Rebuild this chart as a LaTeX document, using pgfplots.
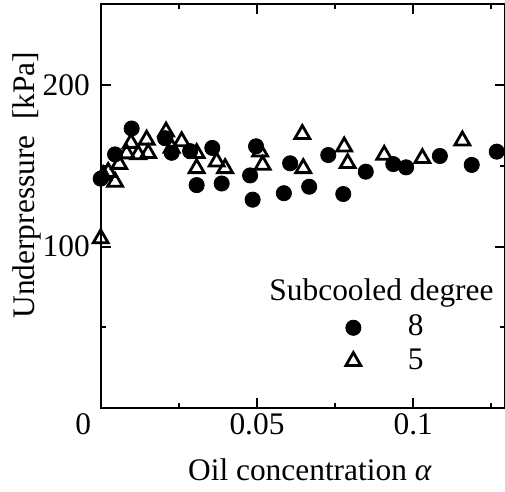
\documentclass[border=0pt]{standalone}
\usepackage{fontspec}
\setmainfont{Liberation Serif}
\usepackage{pgfplots}
\pgfplotsset{compat=1.18}
\begin{document}
\fontsize{15.7}{18}\selectfont
\begin{tikzpicture}
\begin{axis}[
  scale only axis,
  width=202pt, height=202.15pt,
  xmin=0, xmax=0.12924, ymin=0, ymax=250,
  xtick={0,0.05,0.1},
  xticklabels={\llap{0\hspace{4.85pt}},0.05,0.1},
  minor xtick={0.025,0.075,0.125},
  ytick={100,200},
  minor ytick={50,150},
  major tick length=5pt, minor tick length=2.5pt,
  tick align=inside,
  axis line style={line width=1pt},
  every tick/.style={line width=1pt, black},
  /pgf/number format/assume math mode=true,
  scaled x ticks=false,
  xticklabel style={inner sep=2.5pt, font=\fontsize{15.7}{18}\selectfont},
  yticklabel style={font=\fontsize{15.7}{18}\selectfont},
  xlabel={Oil concentration \textit{α}},
  ylabel={Underpressure~ [kPa]},
  xlabel style={at={(axis description cs:0.518,-0.1526)}, anchor=center, font=\fontsize{15.7}{18}\selectfont},
  ylabel style={at={(axis description cs:-0.1837,0.552)}, anchor=center, font=\fontsize{15.7}{18}\selectfont},
  legend style={draw=none, fill=none, at={(axis description cs:0.708,0.158)}, anchor=center,
    font=\fontsize{15.7}{18}\selectfont, row sep=0pt},
  legend cell align=left,
]
\addplot[only marks, mark=*, mark size=3.8pt, black] coordinates {
(0,142) (0.0046,157) (0.0099,173) (0.0206,167) (0.0227,158) (0.0286,159)
(0.0307,138) (0.0357,161) (0.0387,139) (0.0478,144) (0.0486,129) (0.0497,162)
(0.0586,133) (0.0606,151.5) (0.0667,137) (0.0728,156.6) (0.0776,132.5)
(0.0848,146.3) (0.0936,151) (0.0977,149) (0.1085,156) (0.1187,150.5) (0.1267,158.7)
};
\addlegendentry{\hspace{21.5pt}8}
\addplot[only marks, mark=triangle, mark size=4.3pt, black, mark options={line width=1.4pt, fill=white}] coordinates {
(0,105) (0.0008,144) (0.0024,146) (0.0046,140) (0.0059,151) (0.0083,157.5)
(0.0097,164) (0.012,157) (0.0147,166) (0.0152,157.7) (0.0209,171) (0.0227,161)
(0.0259,165) (0.0307,157.7) (0.0307,148.4) (0.0371,152.5) (0.0398,148.4)
(0.051,158.7) (0.0518,150.5) (0.0645,169.5) (0.0648,148.4) (0.0779,161.8)
(0.079,151.5) (0.0907,156.6) (0.1029,154.6) (0.1157,165.5)
};
\addlegendentry{\hspace{21.5pt}5}
\end{axis}
\node[inner sep=0pt, font=\fontsize{15.7}{18}\selectfont] at (140.4pt,57.65pt) {Subcooled degree};
\pgfresetboundingbox
\path[use as bounding box] (-50.35pt,-41.85pt) rectangle (202.15pt,204.15pt);
\end{tikzpicture}
\end{document}
